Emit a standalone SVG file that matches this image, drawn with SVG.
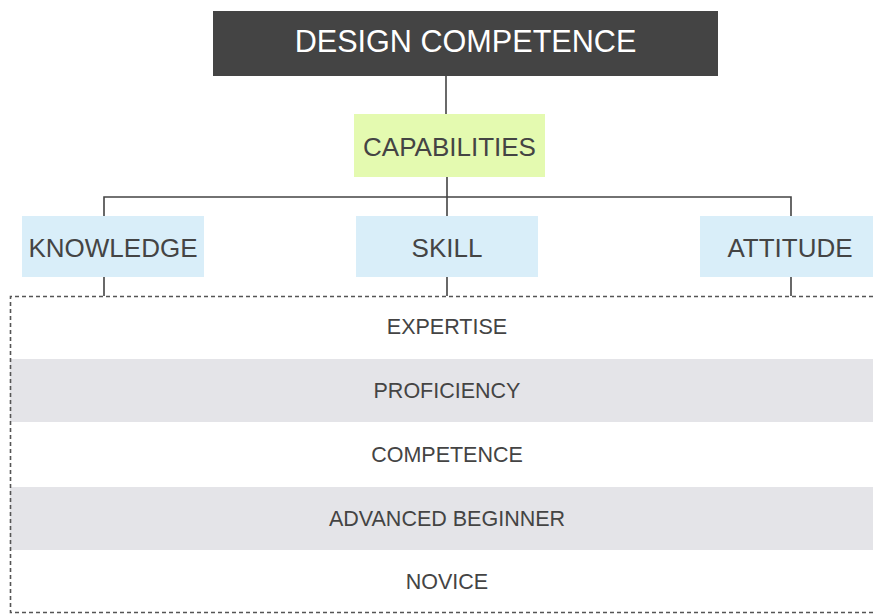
<svg xmlns="http://www.w3.org/2000/svg" width="873" height="615" viewBox="0 0 873 615">
<style>
text{font-family:"Liberation Sans",Arial,sans-serif;fill:#444;text-anchor:middle;dominant-baseline:central}
.c{stroke:#444;stroke-width:1.6;fill:none}
.blue{fill:#d9eef9}
.band{fill:#e4e4e8}
.lv{font-size:21.5px}
.nd{font-size:26px}
</style>
<rect width="873" height="615" fill="#fff"/>
<g id="levels">
<rect class="band" x="10" y="359" width="863" height="63"/>
<rect class="band" x="10" y="487" width="863" height="63"/>
<path d="M873 296.5H10.5V612.5H873" fill="none" stroke="#555" stroke-width="1.6" stroke-dasharray="4,3"/>
<text class="lv" x="447" y="327">EXPERTISE</text>
<text class="lv" x="447" y="391">PROFICIENCY</text>
<text class="lv" x="447" y="455">COMPETENCE</text>
<text class="lv" x="447" y="519">ADVANCED BEGINNER</text>
<text class="lv" x="447" y="582">NOVICE</text>
</g>
<g id="connectors">
<path class="c" d="M446 76V114"/>
<path class="c" d="M447 177V197M104 216V197H791V216M447 197V216"/>
<path class="c" d="M104 277V296M447 277V296M791 277V296"/>
</g>
<g id="design-competence">
<rect x="213" y="11" width="505" height="65" fill="#444"/>
<text x="465.5" y="41" font-size="30.6" style="fill:#fff">DESIGN COMPETENCE</text>
</g>
<g id="capabilities">
<rect x="354" y="114" width="191" height="63" fill="#e4fab0"/>
<text class="nd" x="449.5" y="147">CAPABILITIES</text>
</g>
<g id="knowledge">
<rect class="blue" x="22" y="216" width="182" height="61"/>
<text class="nd" x="113" y="248">KNOWLEDGE</text>
</g>
<g id="skill">
<rect class="blue" x="356" y="216" width="182" height="61"/>
<text class="nd" x="447" y="248">SKILL</text>
</g>
<g id="attitude">
<rect class="blue" x="700" y="216" width="173" height="61"/>
<text class="nd" x="790" y="248">ATTITUDE</text>
</g>
</svg>
